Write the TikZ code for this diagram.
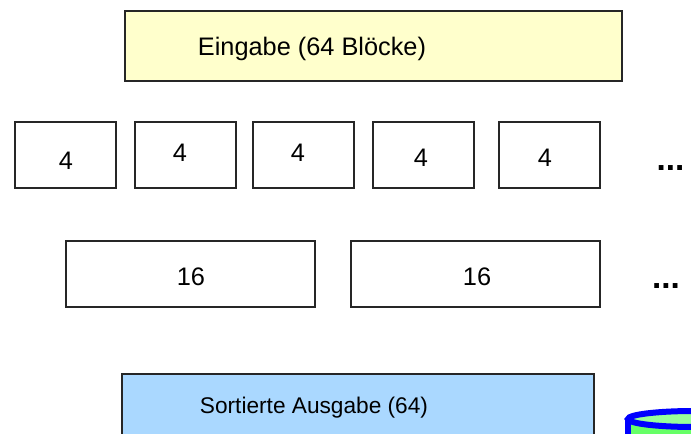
\documentclass[tikz,border=0pt]{standalone}
\usepackage{fontspec}
\setmainfont{Liberation Sans}
\definecolor{yel}{HTML}{FFFFCC}
\definecolor{blu}{HTML}{AAD8FF}
\definecolor{cyltop}{HTML}{99FF99}
\definecolor{cylbody}{HTML}{66FF66}
\tikzset{
  box/.style={draw=black!85,line width=0.8pt,anchor=north west,inner sep=0pt,outer sep=0pt},
  txt/.style={font=\fontsize{19}{19}\selectfont,inner sep=0pt,anchor=base},
  txtsmall/.style={font=\fontsize{17}{17}\selectfont,inner sep=0pt,anchor=base},
  dots/.style={font=\bfseries\fontsize{25}{25}\selectfont,inner sep=0pt,anchor=base}
}
\begin{document}
\begin{tikzpicture}[x=0.75pt,y=-0.75pt]
\useasboundingbox (0,0) rectangle (691,434);
\clip (0,0) rectangle (691,434);
\node[box,fill=yel,minimum width=372.75pt,minimum height=52.5pt] (ein) at (125,11) {};
\node[txt] (eintxt) at (312,56) {Eingabe (64 Blöcke)};
\node[box,minimum width=75.75pt,minimum height=49.5pt] (a1) at (15,122) {};
\node[box,minimum width=75.75pt,minimum height=49.5pt] (a2) at (135,122) {};
\node[box,minimum width=75.75pt,minimum height=49.5pt] (a3) at (253,122) {};
\node[box,minimum width=75.75pt,minimum height=49.5pt] (a4) at (373,122) {};
\node[box,minimum width=75.75pt,minimum height=49.5pt] (a5) at (499,122) {};
\node[txt] (t1) at (66,170) {4};
\node[txt] (t2) at (180,162) {4};
\node[txt] (t3) at (298,162) {4};
\node[txt] (t4) at (421,167) {4};
\node[txt] (t5) at (545,167) {4};
\node[dots] (d1) at (670.5,171) {...};
\node[box,minimum width=186.75pt,minimum height=49.5pt] (b1) at (66,241) {};
\node[box,minimum width=186.75pt,minimum height=49.5pt] (b2) at (351,241) {};
\node[txt] (t6) at (191,285) {16};
\node[txt] (t7) at (477,285) {16};
\node[dots] (d2) at (666,288) {...};
\node[box,fill=blu,minimum width=354pt,minimum height=75pt] (aus) at (122,374) {};
\node[txtsmall] (austxt) at (314,413.5) {Sortierte Ausgabe (64)};
\fill[cylbody] (628,419) rectangle (760,440);
\draw[blue,line width=4.5pt] (628,419) -- (628,440);
\draw[blue,line width=4.5pt,fill=cyltop] (694,419) ellipse [x radius=66,y radius=8];
\end{tikzpicture}
\end{document}
